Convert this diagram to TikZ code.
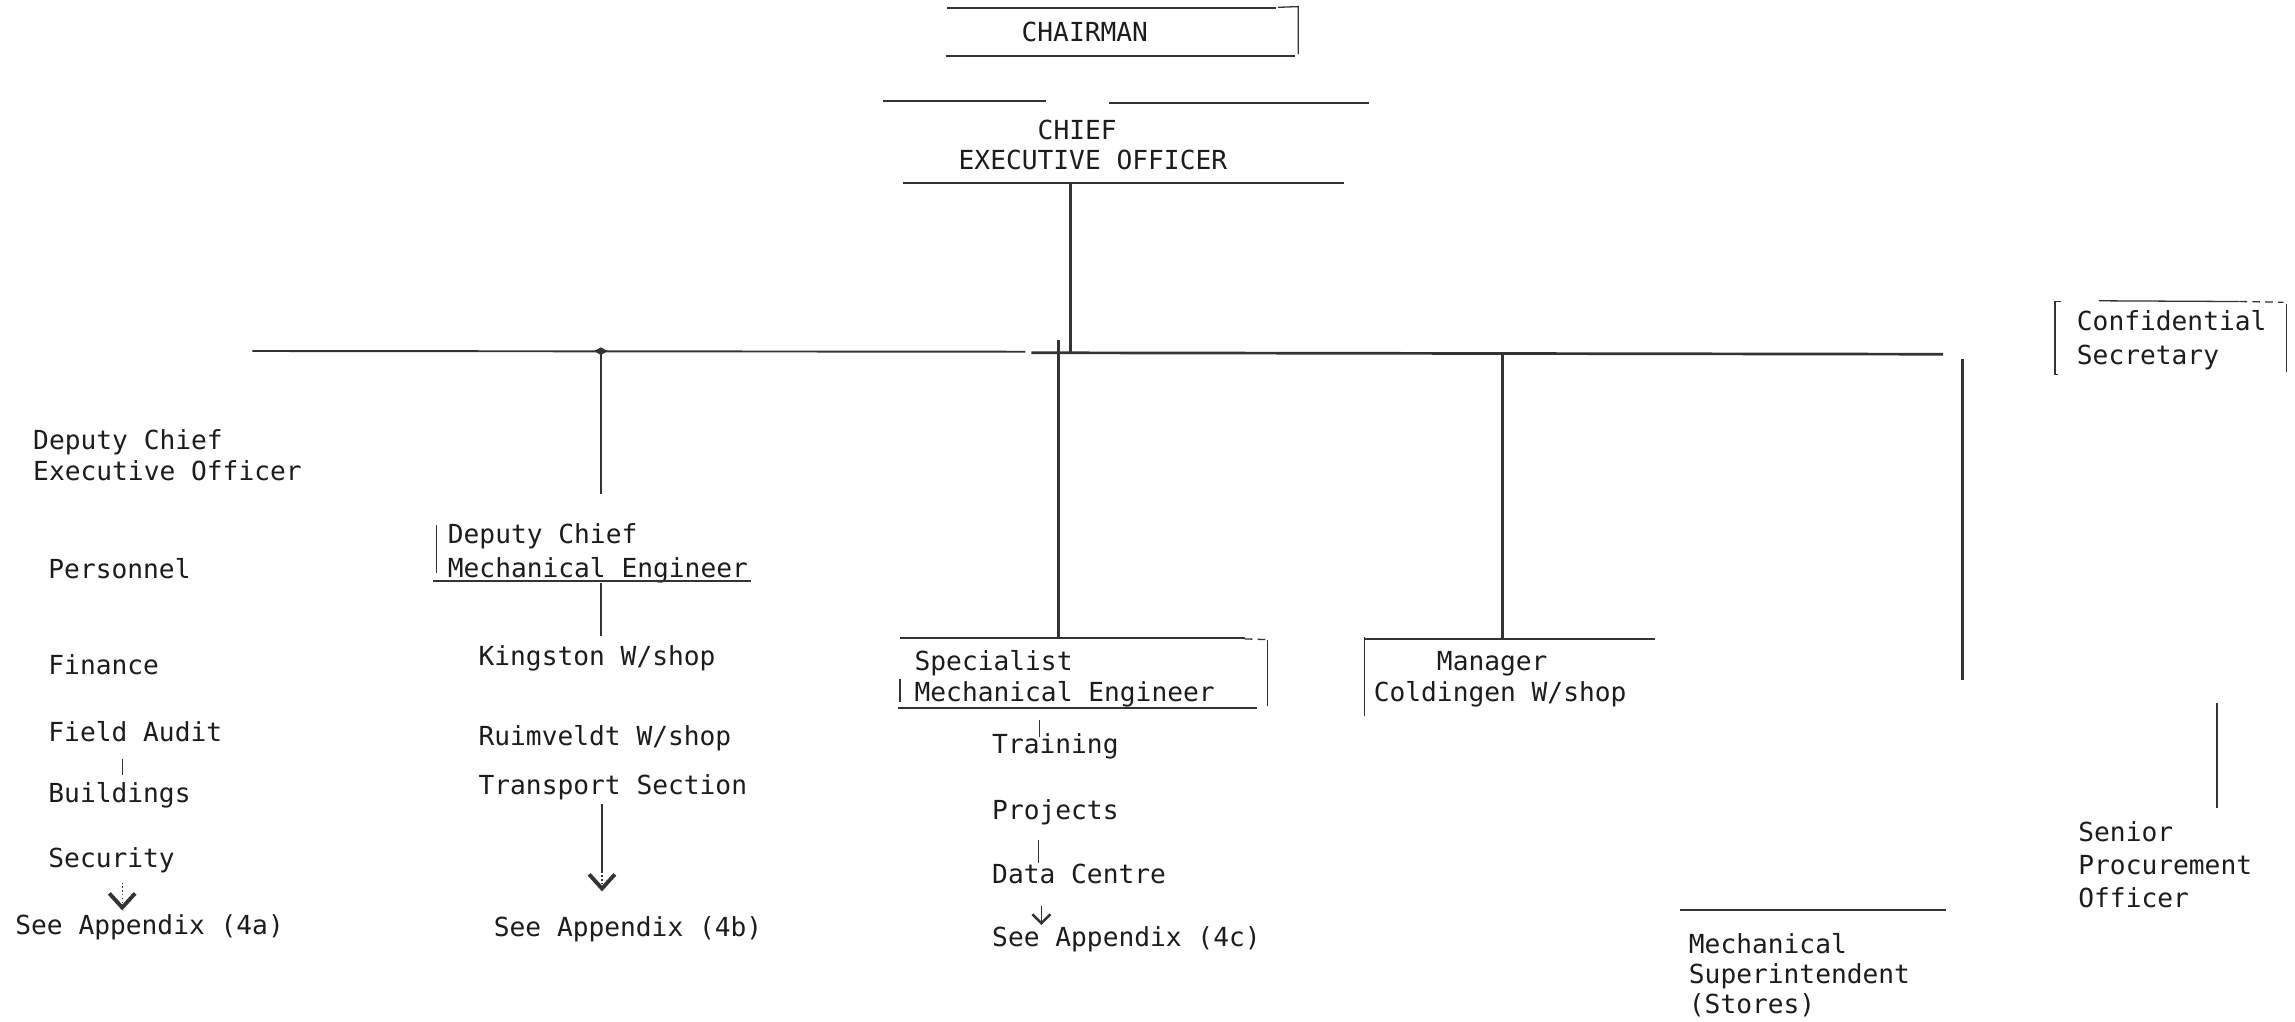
\documentclass[tikz,border=0pt]{standalone}
\usepackage{fontspec}
\setmonofont{DejaVu Sans Mono}
\usetikzlibrary{arrows.meta}
\definecolor{ink}{HTML}{1C1C1C}
\definecolor{rule}{HTML}{333333}
\newcommand\tsz[1]{\ttfamily\fontsize{10.2}{#1}\selectfont}
\begin{document}
\begin{tikzpicture}[x=0.02cm, y=-0.02cm,
  txt/.style={anchor=base west, inner sep=0pt, outer sep=0pt, text=ink, align=left, font=\tsz{12}},
  ln/.style={draw=rule, line width=0.75pt},
  thk/.style={draw=rule, line width=1.05pt},
  thn/.style={draw=rule, line width=0.5pt},
  bigv/.style={-{Straight Barb[length=5.5pt,width=10pt,line width=1.5pt]}},
  smallv/.style={-{Straight Barb[length=3.5pt,width=7pt,line width=1pt]}},
]
\useasboundingbox (0,0) rectangle (1568,698);

% ---------- text nodes (multi-line nodes anchored at their last baseline) ----------
\node[txt] (chair) at (698,28.5) {CHAIRMAN};
\node[txt] (chief) at (709,95.2) {CHIEF};
\node[txt] (ceo) at (655,116) {EXECUTIVE OFFICER};
\node[txt] (dceo) at (22.7,328) {Deputy Chief\\Executive Officer};
\node[txt] (pers) at (33.1,395) {Personnel};
\node[txt] (fin) at (33.1,460.5) {Finance};
\node[txt] (audit) at (33.1,506.4) {Field Audit};
\node[txt] (bld) at (33.1,548) {Buildings};
\node[txt] (sec) at (33.1,593) {Security};
\node[txt] (appa) at (10.5,638.7) {See Appendix (4a)};
\node[txt, font=\tsz{13}] (dcme) at (306,394.3) {Deputy Chief\\Mechanical Engineer};
\node[txt] (king) at (327,455) {Kingston W/shop};
\node[txt] (ruim) at (327,509) {Ruimveldt W/shop};
\node[txt] (trans) at (327,542.8) {Transport Section};
\node[txt] (appb) at (337.4,640) {See Appendix (4b)};
\node[txt] (sme) at (624.9,479.3) {Specialist\\Mechanical Engineer};
\node[txt] (train) at (677.9,514.7) {Training};
\node[txt] (proj) at (677.9,560) {Projects};
\node[txt] (data) at (677.9,603.4) {Data Centre};
\node[txt] (appc) at (677.9,646.5) {See Appendix (4c)};
\node[txt] (mgr) at (938.6,479.3) {\phantom{Cold}Manager\\Coldingen W/shop};
\node[txt, font=\tsz{12.9}] (conf) at (1419,248.7) {Confidential\\Secretary};
\node[txt, font=\tsz{12.9}] (spo) at (1420,620) {Senior\\Procurement\\Officer};
\node[txt, font=\tsz{11.7}] (msup) at (1153.9,692.5) {Mechanical\\Superintendent\\(Stores)};

% ---------- box rules ----------
% Chairman
\draw[ln] (647,5.5) -- (872,5.5);
\draw[thn] (873,5) -- (887,4.5) -- (887,37);
\draw[ln] (646,38.5) -- (885,38.5);
% CEO
\draw[ln] (603,69) -- (714.7,69);
\draw[ln] (758,70.6) -- (935,70.6);
\draw[ln] (617,125.2) -- (918,125.2);
% Deputy Chief Mechanical Engineer
\draw[thn] (298,359) -- (298,391.6);
\draw[ln] (296,397) -- (513,397);
% Specialist Mechanical Engineer
\draw[thk] (615,435.9) -- (850.4,435.9);
\draw[thn, densely dashed] (850.4,436.5) -- (866,437);
\draw[thn] (866.1,437) -- (866.1,482.1);
\draw[ln] (615,463.7) -- (615,479.3);
\draw[ln] (613.4,483.5) -- (859,483.5);
% Manager Coldingen
\draw[ln] (932.3,436.7) -- (1131,436.7);
\draw[thn] (932.3,435.3) -- (932.3,489.2);
% Confidential Secretary
\draw[thn] (1408,206) -- (1404,206) -- (1404,256) -- (1406,256);
\draw[thn] (1434,205.5) -- (1530,206);
\draw[thn, densely dashed] (1530,206) -- (1560,206.5);
\draw[thn] (1562,208) -- (1562,254);
% Mechanical Superintendent
\draw[ln] (1147.7,621.5) -- (1329.5,621.5);

% ---------- connectors ----------
\coordinate (ceoS) at (731.5,125.2);
\coordinate (busC) at (731.5,241);
\coordinate (busL) at (172.5,239.8);
\coordinate (busM) at (700.5,240.3);
\coordinate (busM2) at (704.7,241);
\coordinate (busR) at (1327.5,242);
\coordinate (jD) at (410.6,239.8);
\coordinate (dD) at (410.6,337.6);
\coordinate (sT) at (723.2,232.4);
\coordinate (sB) at (723.2,435.9);
\coordinate (cT) at (1026.4,241.1);
\coordinate (cB) at (1026.4,436.7);
\coordinate (rT) at (1341,245.4);
\coordinate (rB) at (1341,464.6);
\coordinate (pT) at (1514.6,480.4);
\coordinate (pB) at (1514.6,552.2);

\draw[thk] (ceoS) -- (busC);
\draw[ln] (busL) -- (busM);
\draw[thk] (busM2) -- (busR);
\fill[rule] (406,239.8) -- (410.6,237.3) -- (415,239.8) -- (410.6,242.6) -- cycle;
\draw[thn] (jD) -- (dD);
\draw[draw=rule, line width=0.9pt] (sT) -- (sB);
\draw[thk] (cT) -- (cB);
\draw[thk] (rT) -- (rB);
\draw[thk] (pT) -- (pB);

% within columns
\coordinate (dcmeS) at (410.6,398);
\coordinate (kingN) at (410.6,434.8);
\draw[thn] (dcmeS) -- (kingN);
\coordinate (auS) at (83.6,518.5);
\coordinate (bdN) at (83.6,529.3);
\draw[thn] (auS) -- (bdN);
\coordinate (secS) at (83.5,603);
\coordinate (apaN) at (83.5,622);
\draw[thn, densely dotted, bigv] (secS) -- (apaN);
\coordinate (trS) at (411.3,549.6);
\coordinate (trM) at (411.3,595.5);
\coordinate (apbN) at (411.3,609);
\draw[thk] (trS) -- (trM);
\draw[thn, densely dotted, bigv] (trM) -- (apbN);
\coordinate (tT) at (710,492);
\coordinate (tB) at (710,503.4);
\draw[thn] (tT) -- (tB);
\coordinate (pjS) at (709.3,574.2);
\coordinate (dcN) at (709.3,589.8);
\draw[thn] (pjS) -- (dcN);
\coordinate (dtS) at (711.5,619);
\coordinate (apcN) at (711.5,632);
\draw[thn, smallv] (dtS) -- (apcN);
\end{tikzpicture}
\end{document}
